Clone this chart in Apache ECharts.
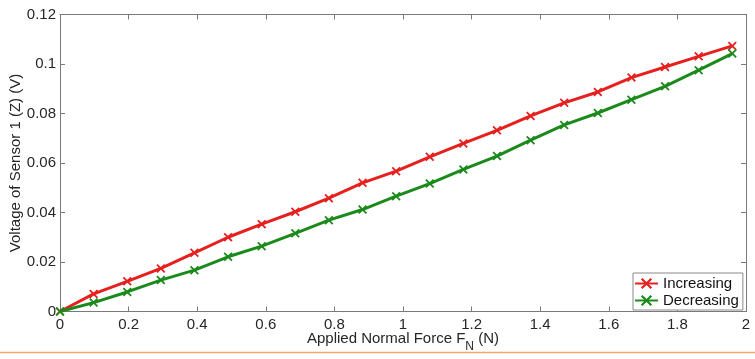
<!DOCTYPE html>
<html>
<head>
<meta charset="utf-8">
<script src="https://cdn.jsdelivr.net/npm/echarts@6/dist/echarts.min.js"></script>
<style>
html,body{margin:0;padding:0;background:#fff;}
#c{width:755px;height:359px;}
</style>
</head>
<body>
<div id="c"></div>
<script>
// Applied normal force (N)
var forceN = [0, 0.098, 0.196, 0.294, 0.392, 0.49, 0.588, 0.686, 0.784, 0.882, 0.98,
              1.078, 1.176, 1.274, 1.372, 1.47, 1.568, 1.666, 1.764, 1.862, 1.96];
// Voltage of sensor 1 (V)
var increasing = [0, 0.0071, 0.0122, 0.0174, 0.0237, 0.0300, 0.0353, 0.0403, 0.0458, 0.0520, 0.0567,
                  0.0625, 0.0679, 0.0732, 0.0790, 0.0843, 0.0887, 0.0945, 0.0988, 0.1031, 0.1073];
var decreasing = [0, 0.0036, 0.0079, 0.0127, 0.0167, 0.0221, 0.0264, 0.0316, 0.0369, 0.0412, 0.0466,
                  0.0517, 0.0574, 0.0628, 0.0692, 0.0754, 0.0802, 0.0856, 0.0910, 0.0975, 0.1042];
var seriesNames = ['Increasing', 'Decreasing'];
var xTicks = {min: 0, max: 2, interval: 0.2};
var yTicks = {min: 0, max: 0.12, interval: 0.02};

function pairs(xs, ys) { return xs.map(function (x, i) { return [x, ys[i]]; }); }

var FONT = 'Liberation Sans, Arial, Helvetica, sans-serif';
var AX = '#7a7a7a';
var TXT = '#262626';
var RED = '#e5201e';
var GREEN = '#1a8a1a';
var XMARK = 'path://M0,1.4 L1.4,0 L5,3.6 L8.6,0 L10,1.4 L6.4,5 L10,8.6 L8.6,10 L5,6.4 L1.4,10 L0,8.6 L3.6,5 Z';

var chart = echarts.init(document.getElementById('c'), null, {renderer: 'canvas'});

function axisCommon(showLabel) {
  return {
    axisLine: {show: true, onZero: false, lineStyle: {color: AX, width: 1}},
    axisTick: {show: true, inside: true, length: 5, lineStyle: {color: AX, width: 1}},
    splitLine: {show: false},
    axisLabel: {show: showLabel, color: TXT, fontSize: 15, fontFamily: FONT}
  };
}

var xBottom = Object.assign(axisCommon(true), {
  type: 'value', position: 'bottom', min: xTicks.min, max: xTicks.max, interval: xTicks.interval,
  name: '{a|Applied Normal Force F}{sub|N}{a| (N)}',
  nameLocation: 'middle', nameGap: 20, nameMoveOverlap: false,
  nameTextStyle: {
    color: TXT, fontFamily: FONT,
    rich: {
      a: {fontSize: 15, fontFamily: FONT, color: TXT, lineHeight: 18, verticalAlign: 'top'},
      sub: {fontSize: 12, fontFamily: FONT, color: TXT, lineHeight: 18, padding: [9, 0, 0, 0], verticalAlign: 'top'}
    }
  }
});
xBottom.axisLabel.margin = 6;
var xTop = Object.assign(axisCommon(false), {
  type: 'value', position: 'top', min: xTicks.min, max: xTicks.max, interval: xTicks.interval
});
var yLeft = Object.assign(axisCommon(true), {
  type: 'value', position: 'left', min: yTicks.min, max: yTicks.max, interval: yTicks.interval,
  name: 'Voltage of Sensor 1 (Z) (V)', nameLocation: 'middle', nameGap: 37, nameMoveOverlap: false,
  nameTextStyle: {color: TXT, fontSize: 15, fontFamily: FONT}
});
yLeft.axisLabel.margin = 4;
var yRight = Object.assign(axisCommon(false), {
  type: 'value', position: 'right', min: yTicks.min, max: yTicks.max, interval: yTicks.interval
});

function lineSeries(name, ys, color) {
  return {
    name: name, type: 'line', xAxisIndex: 0, yAxisIndex: 0,
    data: pairs(forceN, ys),
    symbol: XMARK, symbolSize: 9, showSymbol: true,
    lineStyle: {color: color, width: 3},
    itemStyle: {color: color},
    emphasis: {disabled: true},
    animation: false
  };
}

chart.setOption({
  backgroundColor: '#fff',
  animation: false,
  grid: {left: 60, top: 14.5, right: 9, bottom: 47.5, containLabel: false, outerBoundsMode: 'none'},
  xAxis: [xBottom, xTop],
  yAxis: [yLeft, yRight],
  legend: {
    data: seriesNames,
    orient: 'vertical',
    left: 633, top: 273,
    padding: [3, 4, 2, 1],
    itemGap: 2,
    itemWidth: 23, itemHeight: 14,
    backgroundColor: '#fff',
    borderColor: '#8a8a8a', borderWidth: 1, borderRadius: 0,
    textStyle: {color: '#111', fontSize: 15, fontFamily: FONT},
    selectedMode: false
  },
  series: [
    lineSeries(seriesNames[0], increasing, RED),
    lineSeries(seriesNames[1], decreasing, GREEN)
  ],
  graphic: [{
    type: 'line', silent: true,
    shape: {x1: 0, y1: 352.5, x2: 755, y2: 352.5},
    style: {stroke: '#f5a86a', lineWidth: 1.5}
  }]
});
</script>
</body>
</html>
